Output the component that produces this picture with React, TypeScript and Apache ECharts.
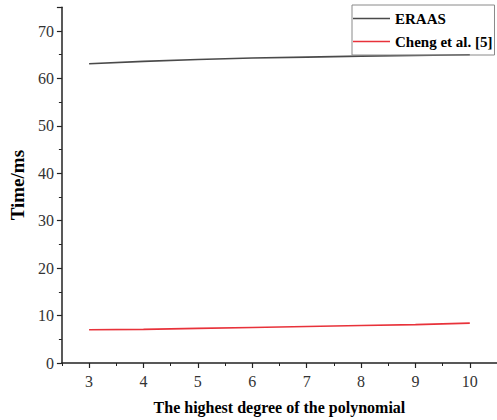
import React, { useEffect, useRef } from "react";
import * as echarts from "echarts";

const degrees = [3, 4, 5, 6, 7, 8, 9, 10];
const eraas = [63.1, 63.6, 64.0, 64.3, 64.5, 64.7, 64.85, 65.0];
const cheng = [7.0, 7.1, 7.3, 7.5, 7.7, 7.9, 8.1, 8.4];
const seriesNames = ["ERAAS", "Cheng et al. [5]"];
const xTicks = [3, 4, 5, 6, 7, 8, 9, 10];

const FONT = "Liberation Serif";

export default function App() {
  const ref = useRef<HTMLDivElement>(null);
  useEffect(() => {
    if (!ref.current) return;
    const chart = echarts.init(ref.current, undefined, { renderer: "svg" });
    const axisCommon = {
      type: "value",
      min: 2.5,
      max: 10.5,
      splitLine: { show: false },
    };
    chart.setOption({
      animation: false,
      backgroundColor: "#ffffff",
      textStyle: { fontFamily: FONT },
      grid: { left: 57, top: 7.3, width: 445.6, height: 360 },
      legend: {
        orient: "vertical",
        left: 352,
        top: 5,
        padding: [5, 2, 5, 1],
        itemGap: 6,
        itemWidth: 37,
        itemHeight: 1.6,
        icon: "rect",
        borderColor: "#8a8a8a",
        borderWidth: 1,
        textStyle: { fontFamily: FONT, fontWeight: "bold", fontSize: 15, color: "#000", lineHeight: 17 },
        data: seriesNames,
      },
      xAxis: [
        {
          ...axisCommon,
          interval: 1,
          name: "The highest degree of the polynomial",
          nameLocation: "middle",
          nameGap: 36,
          nameTextStyle: { fontFamily: FONT, fontWeight: "bold", fontSize: 16, color: "#000" },
          axisLine: { lineStyle: { color: "#222", width: 1.5 } },
          axisTick: { customValues: xTicks, inside: false, length: 5, lineStyle: { color: "#222", width: 1.2 } },
          axisLabel: {
            customValues: xTicks,
            margin: 10,
            fontFamily: FONT,
            fontSize: 16,
            color: "#333",
          },
        },
        {
          ...axisCommon,
          interval: 1,
          position: "bottom",
          axisLine: { show: false },
          axisTick: { show: true, inside: false, length: 3, lineStyle: { color: "#222", width: 1 } },
          axisLabel: { show: false },
        },
      ],
      yAxis: {
        type: "value",
        min: 0,
        max: 75,
        interval: 10,
        name: "Time/ms",
        nameLocation: "middle",
        nameGap: 32,
        nameTextStyle: { fontFamily: FONT, fontWeight: "bold", fontSize: 19, color: "#000" },
        axisLine: { show: true, lineStyle: { color: "#222", width: 1.5 } },
        axisTick: { show: true, inside: false, length: 5, lineStyle: { color: "#222", width: 1.2 } },
        minorTick: { show: true, splitNumber: 2, length: 3, lineStyle: { color: "#222", width: 1 } },
        splitLine: { show: false },
        axisLabel: {
          margin: 8,
          fontFamily: FONT,
          fontSize: 16,
          color: "#333",
          showMaxLabel: false,
          formatter: (v: number) => (v % 10 === 0 ? String(v) : ""),
        },
      },
      series: [
        {
          name: seriesNames[0],
          type: "line",
          symbol: "none",
          xAxisIndex: 0,
          data: degrees.map((d, i) => [d, eraas[i]]),
          lineStyle: { color: "#4a4a4a", width: 1.6 },
          itemStyle: { color: "#4a4a4a" },
        },
        {
          name: seriesNames[1],
          type: "line",
          symbol: "none",
          xAxisIndex: 0,
          data: degrees.map((d, i) => [d, cheng[i]]),
          lineStyle: { color: "#e8323a", width: 1.6 },
          itemStyle: { color: "#e8323a" },
        },
      ],
    });
    return () => chart.dispose();
  }, []);
  return (
    <div
      ref={ref}
      style={{ position: "fixed", left: 0, top: 0, width: 497, height: 420, background: "#fff" }}
    />
  );
}
